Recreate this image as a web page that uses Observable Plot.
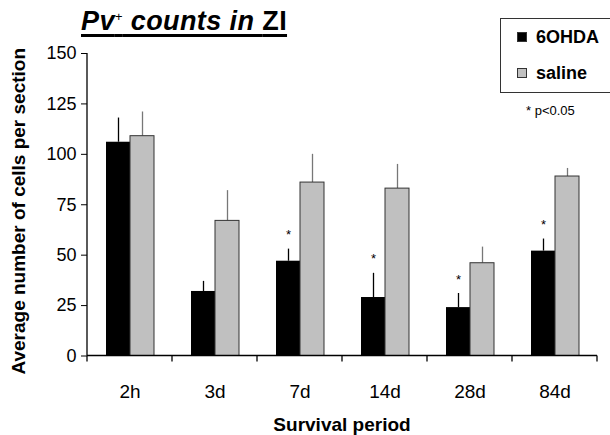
<!DOCTYPE html>
<html>
<head>
<meta charset="utf-8">
<script src="https://cdn.jsdelivr.net/npm/d3@7"></script>
<script src="https://cdn.jsdelivr.net/npm/@observablehq/plot@0.6"></script>
<style>
  html, body { margin: 0; padding: 0; background: #fff; }
  #wrap { position: relative; width: 610px; height: 435px; font-family: "Liberation Sans", Arial, sans-serif; }
  #title { position: absolute; left: 81px; top: 6px; font-size: 27px; font-weight: bold; font-style: italic; letter-spacing: 0.4px;
           text-decoration: underline; text-decoration-thickness: 2.5px; text-underline-offset: 4px; white-space: nowrap; }
  #title sup { font-size: 13px; vertical-align: 9px; font-weight: normal; }
  #title .up { font-style: normal; }
  #legend { position: absolute; left: 500px; top: 18px; width: 120px; height: 75px; border: 1px solid #333; box-sizing: border-box; }
  .item { position: absolute; left: 16px; font-size: 18px; font-weight: bold; white-space: nowrap; }
  .sw { display: inline-block; width: 10px; height: 10px; margin-right: 9px; vertical-align: 1px; box-sizing: border-box; }
  #note { position: absolute; left: 526px; top: 103px; font-size: 13px; white-space: nowrap; }
  svg { position: absolute; left: 0; top: 0; }
</style>
</head>
<body>
<div id="wrap"></div>
<script>
const periods = ["2h", "3d", "7d", "14d", "28d", "84d"];
const groups = ["6OHDA", "saline"];
const ohdaMean = [106, 32, 47, 29, 24, 52];
const ohdaErr = [12, 5, 6, 12, 7, 6];
const salineMean = [109, 67, 86, 83, 46, 89];
const salineErr = [12, 15, 14, 12, 8, 4];
const significant = [false, false, true, true, true, true];
const yTicks = [0, 25, 50, 75, 100, 125, 150];

const data = [];
periods.forEach((p, i) => {
  data.push({period: p, group: groups[0], value: ohdaMean[i], err: ohdaErr[i], sig: significant[i]});
  data.push({period: p, group: groups[1], value: salineMean[i], err: salineErr[i], sig: false});
});
const ohda = data.filter(d => d.group === groups[0]);
const sal = data.filter(d => d.group === groups[1]);

const plot = Plot.plot({
  width: 610,
  height: 435,
  marginTop: 53,
  marginBottom: 79.5,
  marginLeft: 85,
  marginRight: 11,
  style: {fontFamily: "'Liberation Sans', Arial, sans-serif", background: "transparent"},
  fx: {domain: periods, padding: 0, axis: null},
  x: {domain: groups, paddingInner: 0, paddingOuter: 0.75, axis: null},
  y: {domain: [0, 150], axis: null},
  marks: [
    Plot.ruleX(ohda, {fx: "period", x: "group", y1: "value", y2: d => d.value + d.err, stroke: "#000", strokeWidth: 1.3}),
    Plot.ruleX(sal, {fx: "period", x: "group", y1: "value", y2: d => d.value + d.err, stroke: "#777", strokeWidth: 1.3}),
    Plot.barY(ohda, {fx: "period", x: "group", y: "value", fill: "#000"}),
    Plot.barY(sal, {fx: "period", x: "group", y: "value", fill: "#c0c0c0", stroke: "#333", strokeWidth: 1}),
    Plot.text(ohda.filter(d => d.sig), {fx: "period", x: "group", y: d => d.value + d.err, text: () => "*", dy: -14, fontSize: 13, fill: "#000"}),
    Plot.axisY({ticks: yTicks, tickSize: 6, tickPadding: 5, fontSize: 18, label: null, stroke: "#000", color: "#000"}),
    Plot.axisFx({anchor: "bottom", tickSize: 0, tickPadding: 28, fontSize: 19, label: null, color: "#000"})
  ]
});

const wrap = document.getElementById("wrap");
wrap.appendChild(plot);

// axis lines and category boundary ticks, from the plot's own scales
const svg = d3.select(plot);
const fx = plot.scale("fx");
const y = plot.scale("y");
const y0 = y.apply(0), y150 = y.apply(150);
const left = fx.apply(periods[0]);
const right = fx.apply(periods[periods.length - 1]) + fx.bandwidth;
const g = svg.append("g").attr("stroke", "#000").attr("stroke-width", 1.3);
g.append("line").attr("x1", left).attr("x2", left).attr("y1", y0).attr("y2", y150);
g.append("line").attr("x1", left).attr("x2", right).attr("y1", y0).attr("y2", y0);
const bounds = periods.map(p => fx.apply(p)).concat([right]);
bounds.forEach(b => g.append("line").attr("x1", b).attr("x2", b).attr("y1", y0).attr("y2", y0 + 6));

svg.append("text")
  .attr("transform", `translate(25,${(y0 + y150) / 2 + 7}) rotate(-90)`)
  .attr("text-anchor", "middle")
  .attr("font-size", 19).attr("font-weight", "bold").attr("fill", "#000")
  .text("Average number of cells per section");
svg.append("text")
  .attr("x", (left + right) / 2).attr("y", 431)
  .attr("text-anchor", "middle")
  .attr("font-size", 19).attr("font-weight", "bold").attr("fill", "#000")
  .text("Survival period");

// title and legend
const title = document.createElement("div");
title.id = "title";
title.innerHTML = 'Pv<sup>+</sup> counts in <span class="up">ZI</span>';
wrap.appendChild(title);

const legend = document.createElement("div");
legend.id = "legend";
const colors = ["#000", "#c0c0c0"];
groups.forEach((gname, i) => {
  const it = document.createElement("div");
  it.className = "item";
  it.style.top = (i === 0 ? 8 : 44) + "px";
  it.innerHTML = `<span class="sw" style="background:${colors[i]};border:1px solid #333"></span>${gname}`;
  legend.appendChild(it);
});
wrap.appendChild(legend);

const note = document.createElement("div");
note.id = "note";
note.textContent = "* p<0.05";
wrap.appendChild(note);
</script>
</body>
</html>
